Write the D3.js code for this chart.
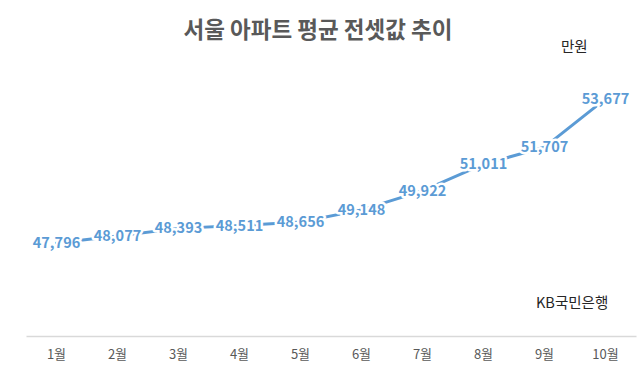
<!DOCTYPE html>
<html>
<head>
<meta charset="utf-8">
<script src="https://cdn.jsdelivr.net/npm/d3@7"></script>
<style>
  body { margin: 0; background: #fff; }
  text { font-family: "Noto Sans CJK KR", "Noto Sans", sans-serif; }
  .axis path, .axis line { stroke: #d9d9d9; }
</style>
</head>
<body>
<svg id="chart"></svg>
<script>
const months = ['1월', '2월', '3월', '4월', '5월', '6월', '7월', '8월', '9월', '10월'];
const prices = [47796, 48077, 48393, 48511, 48656, 49148, 49922, 51011, 51707, 53677];
const yDomain = [44000, 56000];

const width = 640;
const height = 378;

const svg = d3.select('#chart')
  .attr('width', width)
  .attr('height', height);

const xScale = d3.scaleBand()
  .domain(months)
  .range([26, 636]);

const yScale = d3.scaleLinear()
  .domain(yDomain)
  .range([336, 42]);

const xPos = d => xScale(d) + xScale.bandwidth() / 2;

// title
svg.append('text')
  .attr('x', 318)
  .attr('y', 38)
  .attr('text-anchor', 'middle')
  .style('font-size', '22.5px')
  .style('font-weight', 'bold')
  .style('fill', '#595959')
  .text('서울 아파트 평균 전셋값 추이');

svg.append('text')
  .attr('x', 561)
  .attr('y', 52)
  .style('font-size', '14.5px')
  .style('fill', '#262626')
  .text('만원');

svg.append('text')
  .attr('x', 536)
  .attr('y', 308)
  .style('font-size', '14.5px')
  .style('fill', '#262626')
  .text('KB국민은행');

// x axis
const axisX = d3.axisBottom(xScale)
  .tickSize(0)
  .tickPadding(14);

const gx = svg.append('g')
  .attr('class', 'axis x')
  .attr('transform', 'translate(0, 336)')
  .call(axisX);

gx.select('.domain')
  .attr('stroke', '#d9d9d9')
  .attr('stroke-width', 1.5);

gx.selectAll('text')
  .style('font-size', '13px')
  .style('fill', '#595959')
  .style('font-family', '"Noto Sans CJK KR", sans-serif');

// line
const line = d3.line()
  .x((d, i) => xPos(months[i]))
  .y(d => yScale(d));

svg.append('path')
  .datum(prices)
  .attr('d', line)
  .attr('fill', 'none')
  .attr('stroke', '#5b9bd5')
  .attr('stroke-width', 3)
  .attr('stroke-linecap', 'round');

// data labels (white halo hides the line behind the numbers)
svg.selectAll('.label')
  .data(prices)
  .enter().append('text')
  .attr('class', 'label')
  .attr('x', (d, i) => xPos(months[i]))
  .attr('y', d => yScale(d))
  .attr('dy', '0.35em')
  .attr('text-anchor', 'middle')
  .style('font-size', '14.5px')
  .style('font-weight', 'bold')
  .style('fill', '#5b9bd5')
  .style('stroke', '#fff')
  .style('stroke-width', 5)
  .style('stroke-linejoin', 'round')
  .style('paint-order', 'stroke')
  .text(d => d3.format(',')(d));
</script>
</body>
</html>
